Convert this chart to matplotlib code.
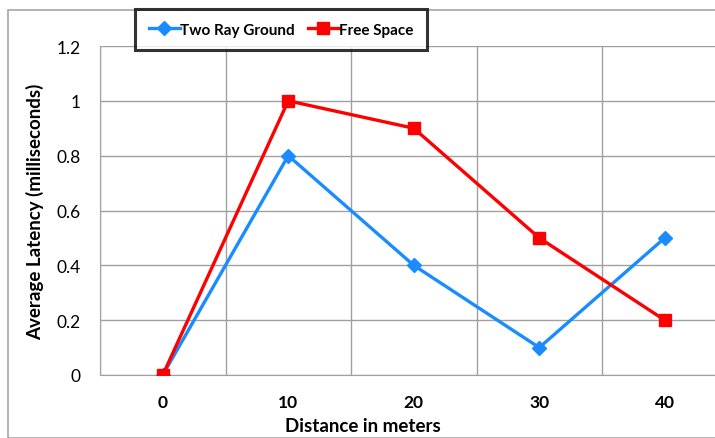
import matplotlib.pyplot as plt
from matplotlib.patches import Rectangle

# data
distances = ["0", "10", "20", "30", "40"]
two_ray = [0, 0.8, 0.4, 0.1, 0.5]
free_space = [0, 1.0, 0.9, 0.5, 0.2]
y_ticks = [0, 0.2, 0.4, 0.6, 0.8, 1, 1.2]

plt.rcParams["font.family"] = ["Lato", "DejaVu Sans"]

fig = plt.figure(figsize=(7.15, 4.39), dpi=100)

# outer chart border
fig.patches.append(Rectangle((8 / 715, 0), 1, 1 - 11 / 439, transform=fig.transFigure,
                             fill=False, edgecolor="#a6a6a6", linewidth=1.2))

ax = fig.add_axes([100 / 715, 1 - 376 / 439, 627.5 / 715, 329 / 439])
x = list(range(len(distances)))

ax.plot(x, two_ray, color="#1a8cff", linewidth=2.4, marker="D", markersize=7,
        label="Two Ray Ground", zorder=3)
ax.plot(x, free_space, color="#ff0000", linewidth=2.4, marker="s", markersize=9,
        label="Free Space", zorder=4)

ax.set_xlim(-0.5, 4.5)
ax.set_ylim(0, 1.2)
ax.set_xticks(x)
ax.set_xticklabels(distances, fontsize=12.5, fontweight="bold")
ax.set_yticks(y_ticks)
ax.set_yticklabels([str(v) for v in y_ticks], fontsize=12.5)
ax.tick_params(axis="x", length=0, pad=14)
ax.tick_params(axis="y", length=0, pad=14)

# grid lines between categories
ax.set_xticks([i - 0.5 for i in range(6)], minor=True)
ax.tick_params(which="minor", length=0)
ax.grid(True, which="minor", axis="x", color="#a0a0a0", linewidth=1)
ax.grid(True, which="major", axis="y", color="#a0a0a0", linewidth=1)
ax.set_axisbelow(True)
for s in ["top", "right"]:
    ax.spines[s].set_visible(False)
for s in ["left", "bottom"]:
    ax.spines[s].set_color("#a0a0a0")

ax.set_xlabel("Distance in meters", fontsize=13.5, fontweight="bold")
ax.xaxis.set_label_coords((363 - 100) / 627.5, -(427 - 376) / 329)
ax.xaxis.label.set_verticalalignment("center")
ax.set_ylabel("Average Latency (milliseconds)", fontsize=13.5, fontweight="bold")
ax.yaxis.set_label_coords(-(100 - 35) / 627.5, 0.5)
ax.yaxis.label.set_verticalalignment("center")

leg = fig.legend(loc="center", bbox_to_anchor=(281 / 715, 1 - 30.5 / 439), ncol=2,
                 frameon=True, fancybox=False, handlelength=2.0,
                 columnspacing=0.9, handletextpad=0.0, borderpad=0.9,
                 prop={"weight": "bold", "size": 11})
leg.get_frame().set_edgecolor("black")
leg.get_frame().set_linewidth(2.2)

fig.savefig("out.png", dpi=100)
